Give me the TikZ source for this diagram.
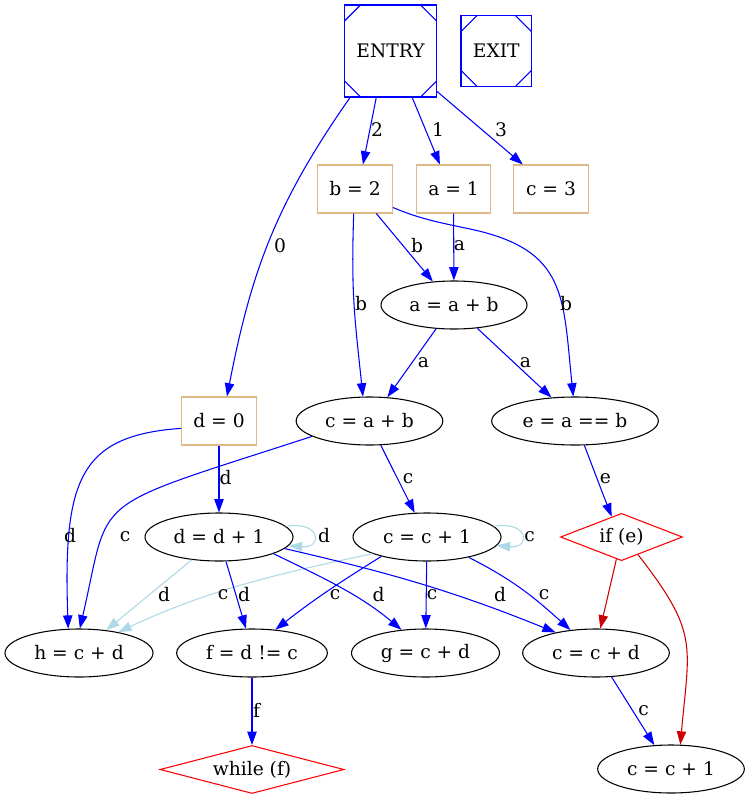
\documentclass[tikz,border=0pt]{standalone}
\usepackage{fontspec}
\setmainfont{DejaVu Serif}
\usetikzlibrary{shapes.geometric,arrows.meta}
\definecolor{ebl}{HTML}{0000FF}
\definecolor{ltblue}{HTML}{ADD8E6}
\definecolor{dred}{HTML}{CC0000}
\definecolor{burly}{HTML}{DEB887}
\tikzset{
  bx/.style={draw=burly, line width=0.8pt, rectangle, minimum width=56pt, minimum height=36pt, inner sep=0pt},
  ell/.style={draw=black, line width=0.8pt, ellipse, minimum height=36pt, inner sep=0pt, minimum width=#1},
  dia/.style={draw=red, line width=0.8pt, diamond, inner sep=0pt},
  msq/.style={draw=ebl, line width=0.8pt, rectangle, inner sep=0pt, minimum width=#1, minimum height=#1,
    path picture={
      \draw[ebl, line width=0.8pt]
        ([yshift=-12pt]path picture bounding box.north west) -- ([xshift=12pt]path picture bounding box.north west)
        ([xshift=-12pt]path picture bounding box.north east) -- ([yshift=-12pt]path picture bounding box.north east)
        ([yshift=12pt]path picture bounding box.south west) -- ([xshift=12pt]path picture bounding box.south west)
        ([xshift=-12pt]path picture bounding box.south east) -- ([yshift=12pt]path picture bounding box.south east);
    }},
  flow/.style={draw=ebl, line width=0.8pt, -{Triangle[length=10pt,width=7pt]}},
  lflow/.style={flow, draw=ltblue},
  rflow/.style={flow, draw=dred},
  lb/.style={inner sep=0pt, text=black}
}
\begin{document}
\begin{tikzpicture}[x=0.75pt, y=0.75pt, font=\fontsize{14pt}{17pt}\selectfont]
\useasboundingbox (0,0) rectangle (749,-799);

% nodes
\node[msq=69pt] (entry) at (390.5,-51) {ENTRY};
\node[msq=53pt] (exit) at (496.3,-51) {EXIT};
\node[bx] (b2) at (355,-189) {b = 2};
\node[bx] (a1) at (453.5,-189) {a = 1};
\node[bx] (c3) at (551,-189) {c = 3};
\node[bx] (d0) at (219,-421) {d = 0};
\node[ell=109.5pt] (aab) at (454,-305) {a = a + b};
\node[ell=110pt] (cab) at (369.5,-421) {c = a + b};
\node[ell=125pt] (eab) at (575,-421) {e = a == b};
\node[ell=111pt] (dd1) at (219,-537) {d = d + 1};
\node[ell=111pt] (cc1) at (427,-537) {c = c + 1};
\node[dia, aspect=2.58, minimum width=91.5pt, minimum height=35.5pt] (ife) at (621.5,-537) {if (e)};
\node[ell=111pt] (hcd) at (79,-653) {h = c + d};
\node[ell=113pt] (fdc) at (252,-653) {f = d != c};
\node[ell=111pt] (gcd) at (425.5,-653) {g = c + d};
\node[ell=110pt] (ccd) at (596,-653) {c = c + d};
\node[dia, aspect=3.83, minimum width=138pt, minimum height=36pt] (wf) at (252,-769.5) {while (f)};
\node[ell=110pt] (cc1b) at (671,-769) {c = c + 1};

% edges from ENTRY
\draw[flow] (entry.-131) .. controls +(-125:130) and +(79:127) .. (d0.72) node[lb, at={(280,-246)}] {0};
\draw[flow] (entry.-107) -- (b2.72) node[lb, at={(377,-130)}] {2};
\draw[flow] (entry.-65.5) -- (a1.119) node[lb, at={(438,-130)}] {1};
\draw[flow] (entry.-41.7) -- (c3.139) node[lb, at={(501,-130)}] {3};

% b = 2, a = 1
\draw[flow] (b2.-49) -- (aab.132) node[lb, at={(417,-246)}] {b};
\draw[flow] (a1) -- (aab) node[lb, at={(459.5,-246)}] {a};
\draw[flow] (b2.-93) .. controls +(-92:80) and +(96:80) .. (cab.105) node[lb, at={(361,-304)}] {b};
\draw[flow] (b2.-26) .. controls +(-23:30) and +(168:30) .. (470,-229)
  .. controls +(-12:100) and +(96:100) .. (eab.94) node[lb, at={(566,-304)}] {b};

% a = a + b
\draw[flow] (aab.-127) -- (cab.53) node[lb, at={(423.5,-363)}] {a};
\draw[flow] (aab.-45) -- (eab.135) node[lb, at={(525.5,-363)}] {a};

% d = 0
\draw[flow] (d0) -- (dd1) node[lb, at={(225.5,-477.5)}] {d};
\draw[flow] (d0.-169) .. controls +(-176:102) and +(92:149) .. (hcd.114) node[lb, at={(70,-536)}] {d};

% c = a + b
\draw[flow] (cab.-165) .. controls +(-162:240) and +(77:140) .. (hcd.88) node[lb, at={(125,-537)}] {c};
\draw[flow] (cab.-65) -- (cc1.117) node[lb, at={(408,-479)}] {c};

% e = a == b
\draw[flow] (eab.-69) -- (ife.116) node[lb, at={(605.5,-479)}] {e};

% self loops
\draw[lflow] (dd1.9) .. controls +(10:35) and +(-5:35) .. (dd1.-7) node[lb, at={(324,-536)}] {d};
\draw[lflow] (cc1.9) .. controls +(10:35) and +(-5:35) .. (cc1.-7) node[lb, at={(529.5,-537)}] {c};

% to h = c + d (light blue)
\draw[lflow] (dd1.-140) -- (hcd.40) node[lb, at={(164,-594.5)}] {d};
\draw[lflow] (cc1.-163) .. controls +(-168:100) and +(25:100) .. (hcd.28) node[lb, at={(223,-594.5)}] {c};

% d = d + 1 out
\draw[flow] (dd1.-74) -- (fdc.104) node[lb, at={(244,-594.5)}] {d};
\draw[flow] (dd1.-17) .. controls +(-26:55) and +(140:55) .. (gcd.136) node[lb, at={(378.5,-594.5)}] {d};
\draw[flow] (dd1.-10) .. controls +(-13:110) and +(158:110) .. (ccd.153) node[lb, at={(500,-594.5)}] {d};

% c = c + 1 out
\draw[flow] (cc1.-157) .. controls +(-148:50) and +(38:50) .. (fdc.45) node[lb, at={(335,-594.5)}] {c};
\draw[flow] (cc1) -- (gcd) node[lb, at={(432,-594.5)}] {c};
\draw[flow] (cc1.-26) .. controls +(-27:50) and +(138:50) .. (ccd.138) node[lb, at={(544,-594.5)}] {c};

% if (e)
\draw[rflow] (ife.-103) -- (ccd.80);
\draw[rflow] (ife.-47) .. controls +(-52:100) and +(85:100) .. (cc1b.69);

% lower
\draw[flow] (ccd.-57) -- (cc1b.125) node[lb, at={(643.5,-711)}] {c};
\draw[flow] (fdc) -- (wf) node[lb, at={(256.5,-710)}] {f};
\end{tikzpicture}
\end{document}
